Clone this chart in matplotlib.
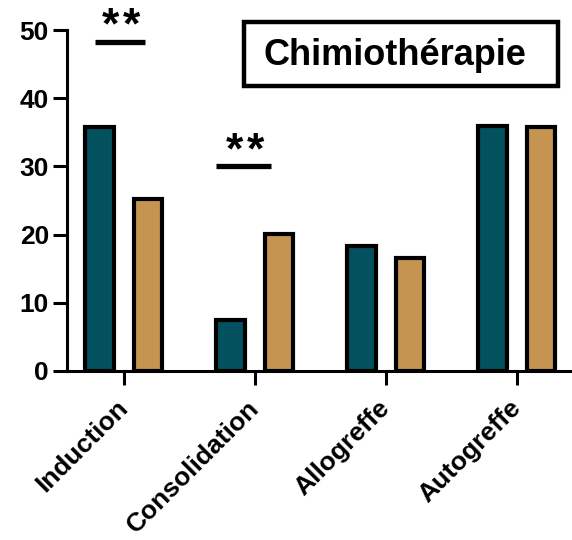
import numpy as np
import matplotlib
matplotlib.use("Agg")
import matplotlib.pyplot as plt
from matplotlib.patches import Rectangle

plt.rcParams["font.family"] = ["Liberation Sans", "DejaVu Sans"]
plt.rcParams["font.weight"] = "bold"

categories = ["Induction", "Consolidation", "Allogreffe", "Autogreffe"]
group_a = [35.8, 7.5, 18.3, 35.9]
group_b = [25.2, 20.1, 16.6, 35.8]
y_ticks = [0, 10, 20, 30, 40, 50]

# significance marks: (category index, line x0, line x1, line y, star x, star y)
sig_marks = [
    (0, -0.218, 0.164, 48.2, -0.02, 50.3),
    (1, -0.294, 0.126, 30.1, -0.076, 32.1),
]
sig_label = "*\u200a*"
title = "Chimiothérapie"

teal = "#03505F"
tan = "#C49450"

fig = plt.figure(figsize=(5.72, 5.4), dpi=100)
ax = fig.add_axes([67 / 572, 1 - 371 / 540, 1 - 67 / 572, 341 / 540])

x = np.arange(len(categories))
w = 0.214
off = 0.187
ax.bar(x - off, group_a, w, color=teal, edgecolor="black", linewidth=3)
ax.bar(x + off, group_b, w, color=tan, edgecolor="black", linewidth=3)

ax.set_xlim(-0.435, 3.42)
ax.set_ylim(0, 50)
ax.set_yticks(y_ticks)
ax.set_xticks(x)
ax.set_xticklabels(categories, rotation=45, ha="right", va="center",
                   rotation_mode="anchor", fontsize=19, fontweight="bold")
ax.tick_params(axis="x", length=10, width=2.2, pad=14)
ax.tick_params(axis="y", length=10, width=2.2, pad=3, labelsize=19)
for lab in ax.get_yticklabels():
    lab.set_fontweight("bold")

for s in ["top", "right"]:
    ax.spines[s].set_visible(False)
for s in ["left", "bottom"]:
    ax.spines[s].set_linewidth(2.2)

for idx, x0, x1, ly, sx, sy in sig_marks:
    ax.plot([idx + x0, idx + x1], [ly, ly], color="black", linewidth=3.8,
            solid_capstyle="butt", clip_on=False)
    ax.text(idx + sx, sy, sig_label, ha="center", va="center",
            fontsize=32, fontweight="bold", clip_on=False)

fig.patches.append(Rectangle((244 / 572, 1 - 86 / 540), 314 / 572, 64 / 540,
                             transform=fig.transFigure, facecolor="white",
                             edgecolor="black", linewidth=3.2))
fig.text(395 / 572, 1 - 65 / 540, title, ha="center", va="baseline",
         fontsize=26, fontweight="bold")

fig.savefig("out.png", dpi=100)
